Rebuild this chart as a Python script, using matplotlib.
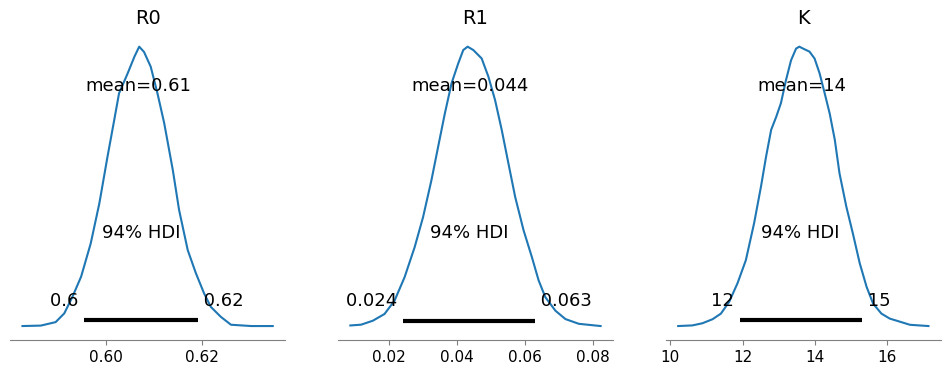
import matplotlib
matplotlib.use("Agg")
from matplotlib import pyplot as plt
from matplotlib.ticker import MaxNLocator

# posterior density curves
r0_x = [0.5827, 0.5865, 0.5896, 0.5914, 0.5931, 0.5949, 0.5969, 0.5987, 0.6004, 0.6018,
        0.6028, 0.6046, 0.6060, 0.6070, 0.6080, 0.6094, 0.6108, 0.6122, 0.6140, 0.6153,
        0.6171, 0.6188, 0.6205, 0.6219, 0.6240, 0.6261, 0.6303, 0.6348]
r0_y = [0.0, 0.1, 0.9, 2.9, 6.7, 11.3, 18.9, 28.1, 38.8, 47.2,
        53.3, 57.9, 61.7, 64.0, 62.8, 59.4, 53.3, 46.5, 35.7, 26.6,
        17.4, 12.1, 7.5, 4.4, 2.1, 0.3, 0.0, 0.0]

r1_x = [0.00878, 0.01193, 0.01537, 0.01881, 0.02176, 0.02471, 0.02766, 0.03012, 0.03258, 0.03454,
        0.03651, 0.03848, 0.04044, 0.04192, 0.04320, 0.04487, 0.04732, 0.04929, 0.05126, 0.05322,
        0.05519, 0.05716, 0.05962, 0.06207, 0.06404, 0.06601, 0.06896, 0.07191, 0.07584, 0.08223]
r1_y = [0.16, 0.27, 0.82, 1.76, 3.63, 6.90, 11.08, 15.25, 20.40, 25.04,
        29.68, 33.89, 36.66, 38.53, 39.00, 38.53, 37.36, 34.83, 31.55, 27.38,
        22.70, 18.06, 13.42, 9.67, 6.44, 4.10, 2.22, 1.05, 0.39, 0.08]

k_x = [10.22, 10.61, 10.89, 11.17, 11.40, 11.63, 11.86, 12.09, 12.32, 12.51,
       12.65, 12.79, 12.93, 13.06, 13.20, 13.34, 13.48, 13.57, 13.67, 13.85,
       13.99, 14.13, 14.27, 14.41, 14.55, 14.68, 14.87, 15.05, 15.24, 15.43,
       15.61, 15.84, 16.07, 16.35, 16.63, 17.14]
k_y = [0.0, 0.001, 0.0045, 0.011, 0.020, 0.039, 0.069, 0.106, 0.166, 0.225,
       0.273, 0.316, 0.337, 0.359, 0.396, 0.428, 0.447, 0.450, 0.447, 0.442,
       0.431, 0.407, 0.375, 0.342, 0.300, 0.246, 0.192, 0.149, 0.101, 0.063,
       0.036, 0.020, 0.012, 0.007, 0.002, 0.0]

names = ["R0", "R1", "K"]
curves_x = [r0_x, r1_x, k_x]
curves_y = [r0_y, r1_y, k_y]
means = [0.6069, 0.0439, 13.65]
hdi_low = [0.5955, 0.0242, 11.925]
hdi_high = [0.6192, 0.0629, 15.29]
hdi_prob = "94%"

fig, axes = plt.subplots(1, 3, figsize=(9.5, 3.78), dpi=100)
plt.subplots_adjust(left=0.0105, right=0.9905, bottom=0.1005, top=0.9135, wspace=0.191)

for ax, name, xs, ys, m, lo, hi in zip(axes, names, curves_x, curves_y, means, hdi_low, hdi_high):
    ax.plot(xs, ys, color="C0", lw=1.5, solid_joinstyle="round")
    peak = max(ys)
    ax.plot([lo, hi], [0.02 * peak, 0.02 * peak], lw=3, color="k", solid_capstyle="butt")
    top = ax.get_ylim()[1]
    ax.text(lo, top * 0.07, f"{lo:.2g} ", size=13, ha="right")
    ax.text(hi, top * 0.07, f" {hi:.2g}", size=13, ha="left")
    ax.text((lo + hi) / 2, top * 0.3, f"{hdi_prob} HDI", size=13, ha="center")
    ax.text(m, top * 0.8, f"mean={m:.2g}", size=13, ha="center")
    ax.set_title(name, fontsize=14)
    ax.set_yticks([])
    ax.xaxis.set_major_locator(MaxNLocator(nbins=4, steps=[1, 2, 5, 10]))
    for s in ["left", "right", "top"]:
        ax.spines[s].set_visible(False)
    ax.spines["bottom"].set_color("#808080")
    ax.tick_params(axis="x", colors="#808080", labelcolor="k", labelsize=11)

plt.savefig("out.png", dpi=100)
